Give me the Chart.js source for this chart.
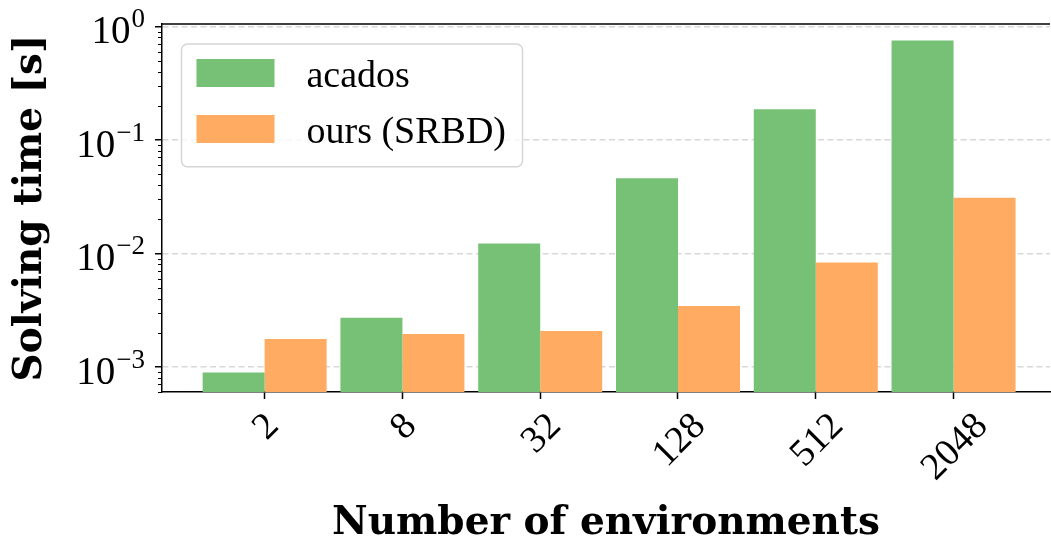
<!DOCTYPE html>
<html>
<head>
<meta charset="utf-8">
<script src="https://cdn.jsdelivr.net/npm/chart.js@4"></script>
<style>
  html, body { margin: 0; padding: 0; background: #fff; overflow: hidden; }
  #wrap { width: 1051px; height: 545px; }
</style>
</head>
<body>
<div id="wrap"><canvas id="chart"></canvas></div>
<script>
// values
const envs = ['2', '8', '32', '128', '512', '2048'];
const acados = [8.9e-4, 2.7e-3, 1.22e-2, 4.6e-2, 0.186, 0.75];
const ours = [1.76e-3, 1.95e-3, 2.07e-3, 3.43e-3, 8.3e-3, 3.09e-2];
const yTickExps = [-3, -2, -1, 0];
const seriesNames = ['acados', 'ours (SRBD)'];
const seriesColors = ['#76c176', '#ffac62'];

const REG = '"Liberation Serif", "DejaVu Serif", serif';
const BOLD = '"DejaVu Serif", "Liberation Serif", serif';

function roundRect(ctx, x, y, w, h, r) {
  ctx.beginPath();
  ctx.moveTo(x + r, y);
  ctx.lineTo(x + w - r, y);
  ctx.arcTo(x + w, y, x + w, y + r, r);
  ctx.lineTo(x + w, y + h - r);
  ctx.arcTo(x + w, y + h, x + w - r, y + h, r);
  ctx.lineTo(x + r, y + h);
  ctx.arcTo(x, y + h, x, y + h - r, r);
  ctx.lineTo(x, y + r);
  ctx.arcTo(x, y, x + r, y, r);
  ctx.closePath();
}

// spine on top, minor ticks, tick labels with exponents, framed legend
const decor = {
  id: 'decor',
  afterDraw(chart) {
    const {ctx, chartArea: a, scales: {x, y}} = chart;
    ctx.save();
    ctx.strokeStyle = '#000';
    ctx.fillStyle = '#000';

    ctx.lineWidth = 1.5;
    ctx.beginPath();
    ctx.moveTo(a.left - 0.75, a.top);
    ctx.lineTo(a.right, a.top);
    ctx.stroke();

    ctx.lineWidth = 1;
    for (let e = -4; e <= 0; e++) {
      for (let k = 2; k <= 9; k++) {
        const v = k * Math.pow(10, e);
        if (v < y.min || v > y.max) continue;
        const py = Math.round(y.getPixelForValue(v)) + 0.5;
        ctx.beginPath();
        ctx.moveTo(a.left - 4, py);
        ctx.lineTo(a.left, py);
        ctx.stroke();
      }
    }

    // y tick labels 10^e
    ctx.textAlign = 'left';
    ctx.textBaseline = 'alphabetic';
    yTickExps.forEach(e => {
      const ty = y.getPixelForValue(Math.pow(10, e));
      const ex = e < 0 ? '\u2212' + (-e) : String(e);
      ctx.font = '39px ' + REG;
      const w1 = ctx.measureText('10').width;
      ctx.font = '27px ' + REG;
      const w2 = ctx.measureText(ex).width;
      const x0 = a.left - 17 - w2 - w1 - 1;
      ctx.font = '39px ' + REG;
      ctx.fillText('10', x0, ty + 17);
      ctx.font = '27px ' + REG;
      ctx.fillText(ex, x0 + w1 + 1, ty + 1);
    });

    // x tick labels, rotated 45 and centred on the tick
    ctx.font = '38px ' + REG;
    ctx.textAlign = 'center';
    const top = a.bottom + 18;
    const h = 25;
    envs.forEach((lab, i) => {
      const px = x.getPixelForValue(i);
      const w = ctx.measureText(lab).width;
      const c = (w + h) * 0.35355;
      ctx.save();
      ctx.translate(px, top + c);
      ctx.rotate(-Math.PI / 4);
      ctx.fillText(lab, 0, h / 2);
      ctx.restore();
    });

    // legend
    const lx = a.left + 19.5, ly = a.top + 20;
    roundRect(ctx, lx, ly, 341, 122.7, 6);
    ctx.fillStyle = 'rgba(255,255,255,0.8)';
    ctx.fill();
    ctx.strokeStyle = '#d5d5d5';
    ctx.lineWidth = 1.5;
    ctx.stroke();
    ctx.textAlign = 'left';
    ctx.font = '38px ' + REG;
    chart.data.datasets.forEach((ds, j) => {
      const hy = ly + 15 + j * 56;
      ctx.fillStyle = ds.backgroundColor;
      ctx.fillRect(lx + 15, hy, 78, 28);
      ctx.fillStyle = '#000';
      ctx.fillText(ds.label, lx + 125, hy + 28);
    });
    ctx.restore();
  }
};

new Chart(document.getElementById('chart'), {
  type: 'bar',
  data: {
    datasets: [
      {label: seriesNames[0], data: acados.map((v, i) => ({x: i, y: v})), backgroundColor: seriesColors[0]},
      {label: seriesNames[1], data: ours.map((v, i) => ({x: i, y: v})), backgroundColor: seriesColors[1]}
    ]
  },
  options: {
    responsive: true,
    maintainAspectRatio: false,
    animation: false,
    layout: {padding: {top: 24, right: 1, left: 0, bottom: 0}},
    datasets: {bar: {categoryPercentage: 0.9, barPercentage: 1.0, borderWidth: 0}},
    plugins: {legend: {display: false}, tooltip: {enabled: false}},
    scales: {
      x: {
        type: 'linear',
        offset: false,
        min: -0.745,
        max: 5.70,
        afterBuildTicks: s => { s.ticks = envs.map((_, i) => ({value: i})); },
        afterFit: s => { s.height = 153; },
        ticks: {display: false},
        grid: {offset: false, drawOnChartArea: false, drawTicks: true, tickLength: 7, tickColor: '#000', tickWidth: 1.5},
        border: {display: true, color: '#000', width: 1.5},
        title: {
          display: true,
          text: 'Number of environments',
          color: '#000',
          font: {family: BOLD, size: 39, weight: 'bold', lineHeight: 1},
          padding: {top: 0, bottom: 2}
        }
      },
      y: {
        type: 'logarithmic',
        min: Math.pow(10, -3.199),
        max: Math.pow(10, 0.021),
        afterBuildTicks: s => { s.ticks = yTickExps.map(e => ({value: Math.pow(10, e), major: true})); },
        afterFit: s => { s.width = 162; },
        ticks: {display: false},
        grid: {color: '#d8d8d8', lineWidth: 1.5, drawTicks: true, tickLength: 7, tickColor: '#000', tickWidth: 1.5, tickBorderDash: []},
        border: {display: true, color: '#000', width: 1.5, dash: [6, 3.5]},
        title: {
          display: true,
          text: 'Solving time [s]',
          color: '#000',
          font: {family: BOLD, size: 39, weight: 'bold', lineHeight: 1},
          padding: {top: 11, bottom: 0}
        }
      }
    }
  },
  plugins: [decor]
});
</script>
</body>
</html>
